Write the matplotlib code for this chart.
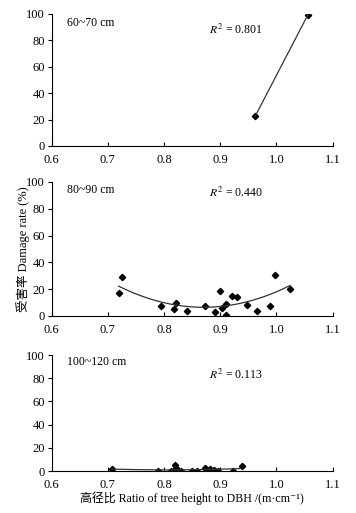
import numpy as np
import matplotlib
matplotlib.use("Agg")
import matplotlib.pyplot as plt

plt.rcParams['font.family'] = ['Liberation Serif', 'DejaVu Serif', 'Noto Sans CJK SC']
plt.rcParams['mathtext.fontset'] = 'stix'

# Panel 1: 60~70 cm
x1 = [0.962, 1.056]
y1 = [22.5, 99.5]
# Panel 2: 80~90 cm
x2 = [0.719, 0.725, 0.795, 0.817, 0.821, 0.840, 0.873, 0.890, 0.900, 0.903,
      0.910, 0.911, 0.921, 0.929, 0.947, 0.966, 0.988, 0.997, 1.024]
y2 = [16.8, 29.3, 7.3, 5.0, 10.0, 4.0, 7.5, 3.3, 18.5, 6.0,
      1.0, 9.0, 15.0, 14.0, 8.0, 4.0, 7.5, 30.8, 20.5]
# Panel 3: 100~120 cm
x3 = [0.707, 0.790, 0.812, 0.819, 0.822, 0.830, 0.849, 0.858, 0.873, 0.874,
      0.882, 0.888, 0.896, 0.923, 0.938]
y3 = [1.4, 0.0, 0.0, 4.9, 2.9, 0.0, 0.0, 0.0, 2.9, 0.0,
      2.0, 0.9, 0.3, 0.0, 4.6]

labels = ['60~70 cm', '80~90 cm', '100~120 cm']
r2 = ['0.801', '0.440', '0.113']
xticks = [0.6, 0.7, 0.8, 0.9, 1.0, 1.1]
yticks = [0, 20, 40, 60, 80, 100]

fig = plt.figure(figsize=(3.56, 5.13), dpi=100)
W, H = 356, 513
boxes = [(51.7, 14, 146), (51.7, 182, 316), (51.7, 355, 471)]
datasets = [(x1, y1, 1), (x2, y2, 2), (x3, y3, 2)]
label_y = [93, 94, 94]
r2_y = [88, 92, 83]

for i, ((l, t, b), (xs, ys, deg)) in enumerate(zip(boxes, datasets)):
    ax = fig.add_axes([l / W, 1 - b / H, 281 / W, (b - t) / H])
    ax.set_xlim(0.6, 1.1)
    ax.set_ylim(0, 100)
    ax.set_xticks(xticks)
    ax.set_xticklabels(['%.1f' % v for v in xticks])
    ax.set_yticks(yticks)
    ax.spines['top'].set_visible(False)
    ax.spines['right'].set_visible(False)
    for s in ('left', 'bottom'):
        ax.spines[s].set_linewidth(0.8)
    ax.tick_params(axis='x', direction='in', length=3, width=0.8, labelsize=9, pad=6)
    ax.tick_params(axis='y', direction='out', length=3, width=0.8, labelsize=9, pad=2)
    ax.plot(xs, ys, 'D', color='black', markersize=3.2)
    xa = np.array(xs); ya = np.array(ys)
    coef = np.polyfit(xa, ya, deg)
    xx = np.linspace(xa.min(), xa.max(), 100)
    ax.plot(xx, np.polyval(coef, xx), color='#333333', linewidth=0.9)
    ax.text(0.627, label_y[i], labels[i], fontsize=8.5, va='center', ha='left')
    ax.text(0.88, r2_y[i], r'$R^2$ = ' + r2[i], fontsize=8.5, va='center', ha='left')
    if i == 1:
        ax.set_ylabel('受害率 Damage rate (%)', fontsize=9)
        ax.yaxis.set_label_coords(-22 / 281, 0.5)
    if i == 2:
        ax.set_xlabel('高径比 Ratio of tree height to DBH /(m·cm⁻¹)', fontsize=8.6, labelpad=0)

fig.savefig('out.png', dpi=100)
